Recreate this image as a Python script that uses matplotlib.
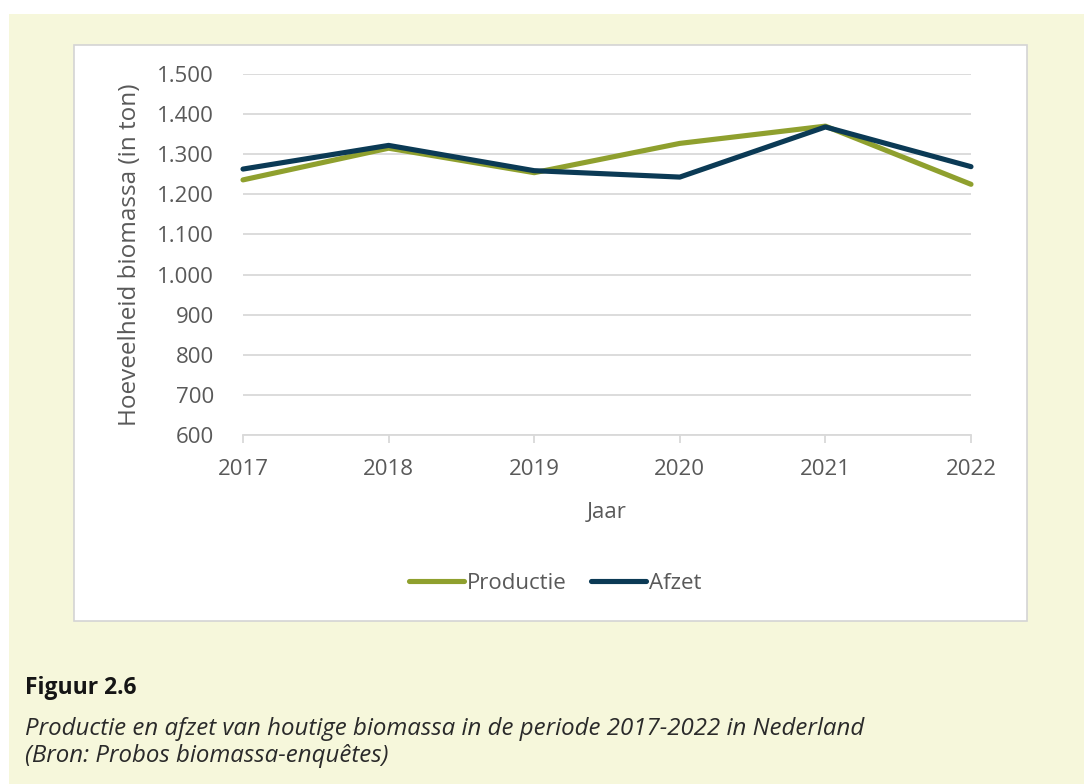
import matplotlib.pyplot as plt
from matplotlib.patches import Rectangle
from matplotlib.ticker import FuncFormatter

years = [2017, 2018, 2019, 2020, 2021, 2022]
productie = [1236, 1315, 1254, 1327, 1370, 1225]
afzet = [1263, 1322, 1259, 1243, 1368, 1269]
yticks = list(range(600, 1501, 100))

green = "#8FA02E"
navy = "#0B3A55"
grey_txt = "#595959"
grid_col = "#D9D9D9"

plt.rcParams['font.family'] = ['Open Sans', 'DejaVu Sans']

W, H = 1084, 784
fig = plt.figure(figsize=(W / 100, H / 100), dpi=100)
fig.patch.set_facecolor("white")

# cream panel and white chart box (pixel coords -> figure fractions)
def box(x0, y0, x1, y1, **kw):
    fig.patches.append(Rectangle((x0 / W, 1 - y1 / H), (x1 - x0) / W, (y1 - y0) / H,
                                 transform=fig.transFigure, **kw))

box(9, 14, 1084, 784, facecolor="#F6F7DB", edgecolor="none", zorder=0)
box(74, 45, 1027, 621, facecolor="white", edgecolor="#D4D4D4", linewidth=1.2, zorder=1)

ax = fig.add_axes([243 / W, 1 - 435 / H, (971 - 243) / W, (435 - 74) / H])
ax.set_facecolor("none")
ax.set_zorder(2)

ax.plot(years, productie, color=green, lw=3.7, solid_capstyle="round",
        solid_joinstyle="round", label="Productie", clip_on=False, zorder=3)
ax.plot(years, afzet, color=navy, lw=3.7, solid_capstyle="round",
        solid_joinstyle="round", label="Afzet", clip_on=False, zorder=4)

ax.set_xlim(2017, 2022)
ax.set_ylim(600, 1500)
ax.set_yticks(yticks)
ax.yaxis.set_major_formatter(FuncFormatter(lambda v, p: f"{int(v):,}".replace(",", ".")))
ax.set_xticks(years)
ax.grid(axis="y", color=grid_col, lw=1.3)
ax.set_axisbelow(True)
for s in ["top", "right", "left"]:
    ax.spines[s].set_visible(False)
ax.spines["bottom"].set_color(grid_col)
ax.spines["bottom"].set_linewidth(1.3)
ax.tick_params(axis="y", length=0, pad=21, labelsize=16, labelcolor=grey_txt)
ax.tick_params(axis="x", length=6, width=1.3, color=grid_col, pad=11,
               labelsize=16, labelcolor=grey_txt)

ax.set_ylabel("Hoeveelheid biomassa (in ton)", fontsize=17.5, color=grey_txt, labelpad=11)
ax.set_xlabel("Jaar", fontsize=16, color=grey_txt, labelpad=16)

leg = ax.legend(loc="center", bbox_to_anchor=(0.4286, -0.412), ncol=2, frameon=False,
                fontsize=16, handlelength=2.5, handletextpad=0.1, columnspacing=1.1)
for t in leg.get_texts():
    t.set_color(grey_txt)

fig.text(25 / W, 1 - 694 / H, "Figuur 2.6", fontsize=16.5, fontweight="bold",
         color="#151515", va="baseline")
fig.text(25 / W, 1 - 735 / H,
         "Productie en afzet van houtige biomassa in de periode 2017-2022 in Nederland",
         fontsize=17.3, style="italic", color="#2a2a2a", va="baseline")
fig.text(25 / W, 1 - 762 / H, "(Bron: Probos biomassa-enquêtes)",
         fontsize=17.3, style="italic", color="#2a2a2a", va="baseline")

fig.savefig("out.png", dpi=100)
